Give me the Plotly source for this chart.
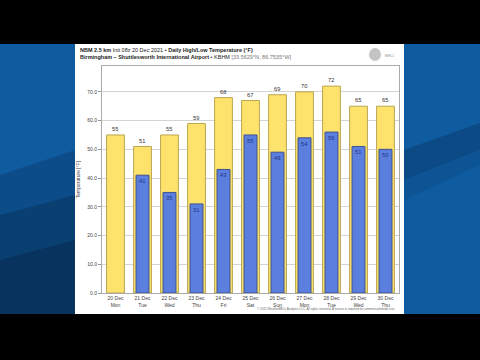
import plotly.graph_objects as go

days = ["20 Dec<br>Mon", "21 Dec<br>Tue", "22 Dec<br>Wed", "23 Dec<br>Thu", "24 Dec<br>Fri",
        "25 Dec<br>Sat", "26 Dec<br>Sun", "27 Dec<br>Mon", "28 Dec<br>Tue", "29 Dec<br>Wed", "30 Dec<br>Thu"]
highs = [55, 51, 55, 59, 68, 67, 69, 70, 72, 65, 65]
lows = [None, 41, 35, 31, 43, 55, 49, 54, 56, 51, 50]
y_ticks = [0, 10, 20, 30, 40, 50, 60, 70]

W, H = 480, 360
L, R, T, B = 102, 81, 66, 67
pw, ph = W - L - R, H - T - B

def px(x):
    return (x - L) / pw

def py(y):
    return (H - B - y) / ph

def poly(pts, color):
    path = "M " + " L ".join(f"{px(a)} {py(b)}" for a, b in pts) + " Z"
    return dict(type="path", xref="paper", yref="paper", path=path,
                fillcolor=color, line=dict(width=0), layer="below")

hi_font = dict(size=6, color="#333333", family="Liberation Sans")
lo_font = dict(size=6, color="#1d3585", family="Liberation Sans")

fig = go.Figure()
fig.add_trace(go.Bar(
    x=days, y=highs, width=0.66, name="High",
    marker=dict(color="#fde26c", line=dict(color="#b9a652", width=1)),
    text=[str(v) for v in highs], textposition="outside", textangle=0,
    textfont=hi_font, outsidetextfont=hi_font,
    cliponaxis=False, hoverinfo="skip",
))
fig.add_trace(go.Bar(
    x=days, y=lows, width=0.48, name="Low",
    marker=dict(color="#5b7fde", line=dict(color="#3d518f", width=1)),
    text=["" if v is None else str(v) for v in lows], textposition="inside", textangle=0,
    insidetextanchor="end",
    textfont=lo_font, insidetextfont=lo_font, hoverinfo="skip",
))

shapes = [
    dict(type="rect", xref="paper", yref="paper", x0=px(0), x1=px(480), y0=py(314), y1=py(44),
         fillcolor="#0f5b9f", line=dict(width=0), layer="below"),
    # left side: darkening toward bottom with gentle diagonals
    poly([(0, 175), (75, 150), (75, 314), (0, 314)], "#0c4d89"),
    poly([(0, 215), (75, 195), (75, 314), (0, 314)], "#0a3f72"),
    poly([(0, 260), (75, 240), (75, 314), (0, 314)], "#08335e"),
    # right side dark diagonal band
    poly([(404, 150), (480, 123), (480, 150), (404, 180)], "#0b4a84"),
    poly([(404, 180), (480, 150), (480, 165), (404, 200)], "#0d5494"),
    # white panel
    dict(type="rect", xref="paper", yref="paper", x0=px(75), x1=px(404), y0=py(314), y1=py(44),
         fillcolor="#ffffff", line=dict(width=0), layer="below"),
    # logo
    dict(type="circle", xref="paper", yref="paper", x0=px(369), x1=px(381), y0=py(61), y1=py(48),
         fillcolor="#c4c4c4", line=dict(width=0), layer="below"),
]

annotations = [
    dict(xref="paper", yref="paper", x=px(78), y=py(50), xanchor="left", yanchor="middle",
         text="<b>NBM 2.5 km</b> Init 08z 20 Dec 2021 • <b>Daily High/Low Temperature (°F)</b>",
         showarrow=False, font=dict(size=5.5, color="#222222", family="Liberation Sans")),
    dict(xref="paper", yref="paper", x=px(78), y=py(57), xanchor="left", yanchor="middle",
         text="<b>Birmingham – Shuttlesworth International Airport</b> • KBHM <span style='color:#777'>[33.5629°N, 86.7535°W]</span>",
         showarrow=False, font=dict(size=5.5, color="#222222", family="Liberation Sans")),
    dict(xref="paper", yref="paper", x=px(383), y=py(55), xanchor="left", yanchor="middle",
         text="BELL", showarrow=False, font=dict(size=4, color="#999999", family="Liberation Sans")),
    dict(xref="paper", yref="paper", x=px(397), y=py(309), xanchor="right", yanchor="middle",
         text="© 2021 WeatherBELL Analytics LLC. All rights reserved. A license is required for commercial/media use.",
         showarrow=False, font=dict(size=3, color="#666666", family="Liberation Sans")),
]

fig.update_layout(
    width=W, height=H,
    margin=dict(l=L, r=R, t=T, b=B),
    paper_bgcolor="#000000",
    plot_bgcolor="#f1f1f1",
    barmode="overlay",
    bargap=0.2,
    showlegend=False,
    hovermode=False,
    shapes=shapes,
    annotations=annotations,
    uniformtext=dict(minsize=5, mode="show"),
    xaxis=dict(
        tickfont=dict(size=5, color="#444444", family="Liberation Sans"),
        showline=True, linecolor="#aaaaaa", mirror=True, ticks="", showgrid=False,
    ),
    yaxis=dict(
        range=[0, 79], tickvals=y_ticks, tickformat=".1f",
        tickfont=dict(size=5, color="#444444", family="Liberation Sans"),
        ticks="outside", ticklen=3, tickcolor="#999999",
        showgrid=True, gridcolor="#d4d4d4", gridwidth=1,
        showline=True, linecolor="#aaaaaa", mirror=True, zeroline=False,
        title=dict(text="Temperature [°F]", font=dict(size=5, color="#444444", family="Liberation Sans"), standoff=6),
    ),
)

fig.write_html("out.html", config={"displayModeBar": False, "staticPlot": True},
               post_script="document.body.style.margin='0';document.body.style.overflow='hidden';")
